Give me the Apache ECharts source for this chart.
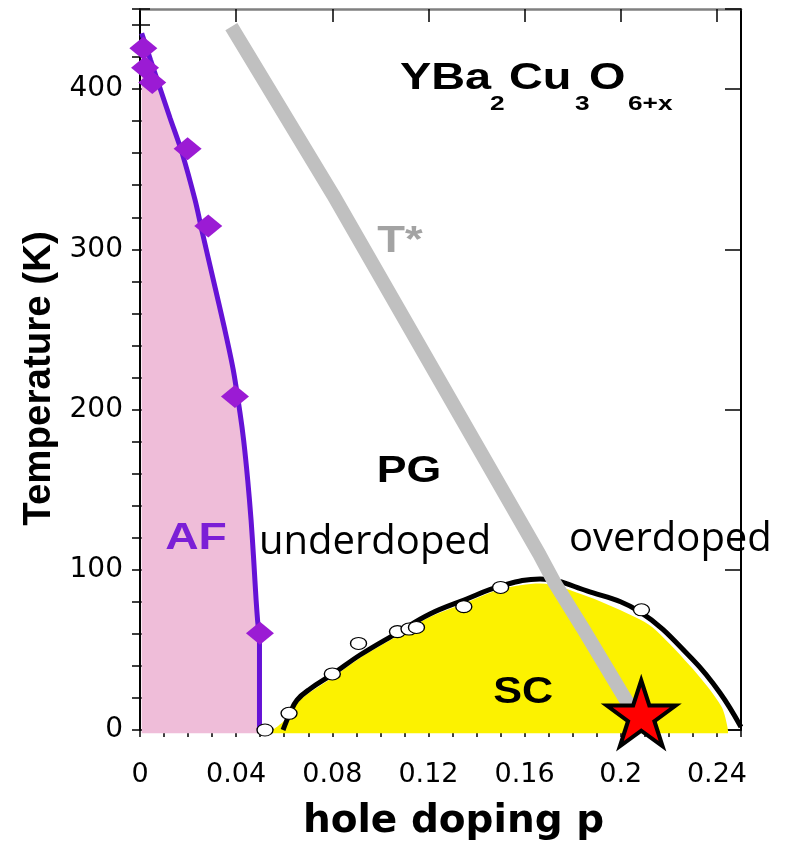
<!DOCTYPE html>
<html>
<head>
<meta charset="utf-8">
<script src="https://cdn.jsdelivr.net/npm/echarts@6/dist/echarts.min.js"></script>
<style>html,body{margin:0;padding:0;background:#fff}#c{width:792px;height:841px}</style>
</head>
<body>
<div id="c"></div>
<script>
// ---- data ----
const xTickLabels = ['0', '0.04', '0.08', '0.12', '0.16', '0.2', '0.24'];
const yTickLabels = ['0', '100', '200', '300', '400'];

// Neel line (AF boundary) [p, T]
const afLine = [[0.0007,434.9],[0.0044,418.2],[0.0083,400.7],[0.0125,382.0],[0.0175,360.2],[0.0229,330.8],
  [0.0257,312.1],[0.0305,280.9],[0.0353,249.7],[0.0388,224.7],[0.0416,197.9],[0.0431,181.0],[0.0448,156.1],
  [0.0462,131.1],[0.0473,106.1],[0.0483,81.1],[0.0491,65.5],[0.0497,60.5],[0.0497,0]];
// AF data points (diamonds)
const afPoints = [[0.0014,425.5],[0.0021,413.4],[0.0051,404.1],[0.0198,362.7],[0.0284,314.6],[0.0395,208.1],[0.0499,60.4]];
// Tc dome (black line)
const tcDome = [[0.0595,0],[0.0624,10.6],[0.0653,18.7],[0.0707,25.6],[0.0803,35.0],[0.0915,46.8],[0.1069,60.5],
  [0.1206,72.4],[0.1348,81.1],[0.1502,89.9],[0.1664,94.3],[0.1859,86.8],[0.2080,73.7],[0.2301,43.7],[0.2413,23.1],[0.25,1.9]];
// SC region fill boundary
const scFill = [[0.0553,0],[0.0624,9],[0.0653,16.5],[0.0707,23.5],[0.0803,33],[0.0915,45],[0.1069,58.5],[0.1206,70.5],
  [0.1348,79],[0.1502,88],[0.1664,91.5],[0.1859,83.5],[0.208,69],[0.2148,62],[0.23,38],[0.2419,14.5],[0.2446,0]];
// Tc measurements (open circles)
const tcPoints = [[0.052,0],[0.062,10.4],[0.080,35],[0.0909,54],[0.1071,61.4],[0.1119,63],[0.115,64],[0.1347,77],[0.150,89],[0.2086,75]];
// T* pseudogap line
const tStarLine = [[0.038,439],[0.0803,334],[0.166,110],[0.1726,91.5],[0.184,64],[0.1996,25],[0.2065,8]];
// highlighted sample (star)
const starPoint = [[0.2085,10.4]];

const STAR = 'path://M0,-100 L22.45,-30.9 L95.1,-30.9 L36.33,11.8 L58.8,80.9 L0,38.2 L-58.8,80.9 L-36.33,11.8 L-95.1,-30.9 L-22.45,-30.9 Z';
const FONT = '"Liberation Sans", Arial, sans-serif';

function tickFmt(labels, step) {
  return function (v) {
    const i = Math.round(v / step);
    return Math.abs(v - i * step) < 1e-9 && labels[i] !== undefined ? labels[i] : '';
  };
}
function xAxisDef(pos, interval, len, extra) {
  return Object.assign({
    type: 'value', position: pos, min: 0, max: 0.25, interval: interval,
    axisLine: { show: false }, splitLine: { show: false },
    axisTick: { show: true, inside: true, length: len, lineStyle: { color: '#000', width: 1.5 } },
    axisLabel: { show: false }
  }, extra || {});
}
function yAxisDef(pos, interval, len, extra) {
  return Object.assign({
    type: 'value', position: pos, min: 0, max: 450, interval: interval,
    axisLine: { show: false }, splitLine: { show: false },
    axisTick: { show: true, inside: true, length: len, lineStyle: { color: '#000', width: 1.5 } },
    axisLabel: { show: false }
  }, extra || {});
}

const chart = echarts.init(document.getElementById('c'), null, { renderer: 'canvas' });
const option = {
  animation: false,
  backgroundColor: '#fff',
  textStyle: { fontFamily: FONT },
  grid: { left: 140, right: 51, top: 9, bottom: 111, containLabel: false, outerBoundsMode: 'none' },
  xAxis: [
    xAxisDef('bottom', 0.04, 13, {
      axisLine: { show: true, onZero: false, lineStyle: { color: '#000', width: 1.5 } },
      axisLabel: { show: true, margin: 31, fontSize: 27, fontFamily: '"DejaVu Sans", sans-serif', color: '#000',
        showMaxLabel: false, formatter: tickFmt(xTickLabels, 0.04) },
      name: 'hole doping p', nameLocation: 'middle', nameGap: 72,
      nameTextStyle: { fontSize: 39, fontWeight: 'bold', fontFamily: '"DejaVu Sans", sans-serif', color: '#000', padding: [0, 0, 0, 26] }
    }),
    xAxisDef('bottom', 0.01, 7),
    xAxisDef('top', 0.04, 13, { axisLine: { show: true, onZero: false, lineStyle: { color: '#808080', width: 2.5 } } }),
    xAxisDef('top', 0.01, 7)
  ],
  yAxis: [
    yAxisDef('left', 100, 17, {
      axisLine: { show: true, onZero: false, lineStyle: { color: '#000', width: 2 } },
      axisLabel: { show: true, margin: 17, fontSize: 28, fontFamily: '"DejaVu Sans", sans-serif', color: '#000',
        showMaxLabel: false, formatter: tickFmt(yTickLabels, 100) },
      name: 'Temperature (K)', nameLocation: 'middle', nameGap: 74,
      nameTextStyle: { fontSize: 38.5, fontWeight: 'bold', fontFamily: FONT, color: '#000', padding: [0, 18, 0, 0] }
    }),
    yAxisDef('left', 20, 10),
    yAxisDef('right', 100, 16, { axisLine: { show: true, onZero: false, lineStyle: { color: '#000', width: 2 } } }),
    yAxisDef('right', 20, 8)
  ],
  series: [
    { type: 'line', name: 'AF', data: afLine, symbol: 'none', smooth: 0.3, clip: false, z: 2,
      lineStyle: { color: '#6512d6', width: 5 }, areaStyle: { color: '#efbdd9', opacity: 1, origin: -2 } },
    { type: 'line', name: 'SC', data: scFill, symbol: 'none', smooth: 0.3, clip: false, z: 2,
      lineStyle: { width: 0, opacity: 0 }, areaStyle: { color: '#fcf200', opacity: 1, origin: -2 } },
    { type: 'line', name: 'Tc', data: tcDome, symbol: 'none', smooth: 0.4, z: 3,
      lineStyle: { color: '#000', width: 5 } },
    { type: 'line', name: 'T*', data: tStarLine, symbol: 'none', z: 4,
      lineStyle: { color: '#c0c0c0', width: 14 } },
    { type: 'scatter', name: 'AF points', data: afPoints, symbol: 'diamond', symbolSize: [28, 23], z: 6,
      itemStyle: { color: '#9b1bd4', opacity: 1 } },
    { type: 'scatter', name: 'Tc points', data: tcPoints, symbol: 'circle', symbolSize: [16, 12], z: 6,
      itemStyle: { color: '#fff', borderColor: '#000', borderWidth: 1.2, opacity: 1 } },
    { type: 'scatter', name: 'sample', data: starPoint, symbol: STAR, symbolSize: [69, 66], z: 7, clip: false,
      itemStyle: { color: '#ff0000', borderColor: '#000', borderWidth: 4, borderJoin: 'miter', borderMiterLimit: 10, opacity: 1 } }
  ],
  graphic: { elements: [
    { type: 'text', x: 400, y: 241.5, scaleX: 1.21, z: 100, style: { text: 'T*', fill: '#a3a3a3', font: 'bold 37.5px ' + FONT, align: 'center', verticalAlign: 'middle' } },
    { type: 'text', x: 409, y: 471.5, scaleX: 1.19, z: 100, style: { text: 'PG', fill: '#000', font: 'bold 37.5px ' + FONT, align: 'center', verticalAlign: 'middle' } },
    { type: 'text', x: 196, y: 538.3, scaleX: 1.25, z: 100, style: { text: 'AF', fill: '#7b1fd6', font: 'bold 37px ' + FONT, align: 'center', verticalAlign: 'middle' } },
    { type: 'text', x: 523.3, y: 692.3, scaleX: 1.15, z: 100, style: { text: 'SC', fill: '#000', font: 'bold 37.5px ' + FONT, align: 'center', verticalAlign: 'middle' } },
    { type: 'text', x: 259, y: 542.8, z: 100, style: { text: 'underdoped', fill: '#000', font: '40px "Open Sans", sans-serif', align: 'left', verticalAlign: 'middle' } },
    { type: 'text', x: 569, y: 539.5, z: 100, style: { text: 'overdoped', fill: '#000', font: '40px "Open Sans", sans-serif', align: 'left', verticalAlign: 'middle' } },
    { type: 'text', x: 400, y: 78.5, scaleX: 1.25, z: 100, style: { text: 'YBa', fill: '#000', font: 'bold 37.5px ' + FONT, align: 'left', verticalAlign: 'middle' } },
    { type: 'text', x: 490, y: 104.5, scaleX: 1.25, z: 100, style: { text: '2', fill: '#000', font: 'bold 21px ' + FONT, align: 'left', verticalAlign: 'middle' } },
    { type: 'text', x: 509, y: 78.5, scaleX: 1.25, z: 100, style: { text: 'Cu', fill: '#000', font: 'bold 37.5px ' + FONT, align: 'left', verticalAlign: 'middle' } },
    { type: 'text', x: 575, y: 104.5, scaleX: 1.25, z: 100, style: { text: '3', fill: '#000', font: 'bold 21px ' + FONT, align: 'left', verticalAlign: 'middle' } },
    { type: 'text', x: 589, y: 78.5, scaleX: 1.25, z: 100, style: { text: 'O', fill: '#000', font: 'bold 37.5px ' + FONT, align: 'left', verticalAlign: 'middle' } },
    { type: 'text', x: 628, y: 104.5, scaleX: 1.25, z: 100, style: { text: '6+x', fill: '#000', font: 'bold 21px ' + FONT, align: 'left', verticalAlign: 'middle' } }
  ] }
};
chart.setOption(option);
</script>
</body>
</html>
